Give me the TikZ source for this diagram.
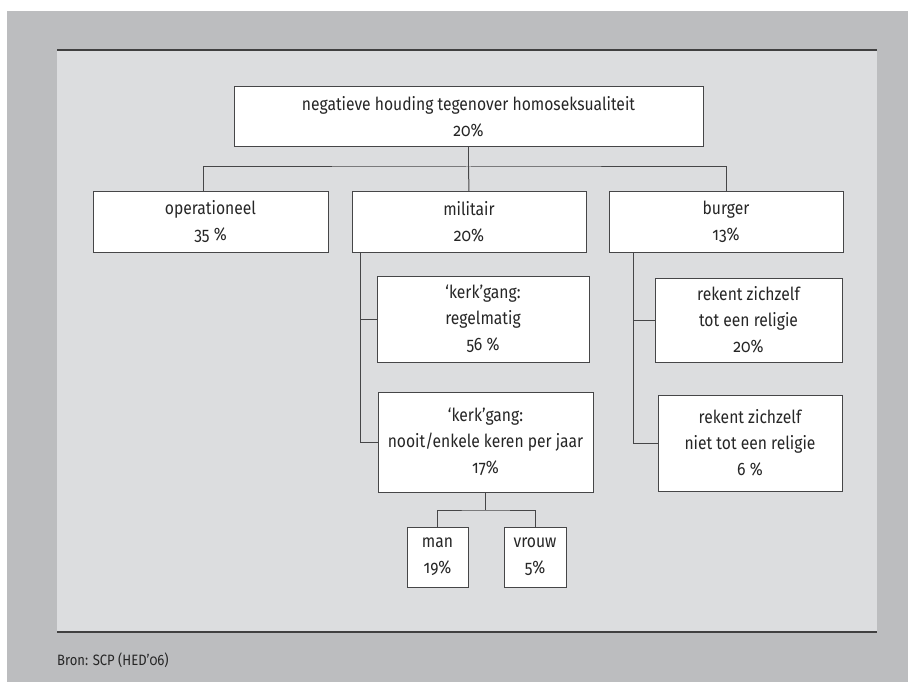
\documentclass[tikz,border=0pt]{standalone}
\usepackage{fontspec}
\setmainfont{Fira Sans}[Numbers=OldStyle, FakeStretch=0.87]
\definecolor{outergray}{RGB}{188,189,191}
\definecolor{innergray}{RGB}{220,221,223}
\definecolor{linegray}{RGB}{70,70,72}
\tikzset{
  box/.style={draw=linegray, line width=1pt, fill=white, inner sep=2pt, align=center,
    font=\fontsize{18}{26}\selectfont, text=black!85},
  conn/.style={draw=linegray, line width=1pt},
  rule/.style={draw=black!75, line width=1.6pt}
}
\begin{document}
\begin{tikzpicture}[x=1pt,y=-1pt]
\useasboundingbox (0,0) rectangle (908,682);
\fill[white] (0,0) rectangle (908,682);
\fill[outergray] (7,11) rectangle (908,682);
\fill[innergray] (57,50) rectangle (877,632);
\draw[rule] (57,50) -- (877,50);
\draw[rule] (57,632) -- (877,632);

\node[box, minimum width=469pt, minimum height=60pt] (top) at (468.5,117) {negatieve houding tegenover homoseksualiteit\\20\%};
\node[box, minimum width=235pt, minimum height=60pt] (oper) at (210.5,222) {operationeel\\35 \%};
\node[box, minimum width=234pt, minimum height=60pt] (mil) at (469,222) {militair\\20\%};
\node[box, minimum width=234pt, minimum height=60pt] (burg) at (726,222) {burger\\13\%};
\node[box, minimum width=212pt, minimum height=86pt] (kerk1) at (483,319) {‘kerk’gang:\\regelmatig\\56 \%};
\node[box, minimum width=215pt, minimum height=100pt] (kerk2) at (485.5,442) {‘kerk’gang:\\nooit/enkele keren per jaar\\17\%};
\node[box, minimum width=61pt, minimum height=60pt] (man) at (437.5,557) {man\\19\%};
\node[box, minimum width=62pt, minimum height=60pt] (vrouw) at (535,557) {vrouw\\5\%};
\node[box, minimum width=187pt, minimum height=84pt] (rel1) at (748.5,320) {rekent zichzelf\\tot een religie\\20\%};
\node[box, minimum width=184pt, minimum height=96pt] (rel2) at (750,443) {rekent zichzelf\\niet tot een religie\\6 \%};

\coordinate (hj) at (468.5,167);
\coordinate (ot) at (203,192);
\coordinate (mt) at (360.7,252);
\coordinate (bt) at (633,252);
\coordinate (kj) at (485.5,510);

\draw[conn] (top.south) -- (hj);
\draw[conn] (ot) |- (hj) -| (burg.north);
\draw[conn] (hj) -- (mil.north);
\draw[conn] (mt) |- (kerk1.west);
\draw[conn] (mt) |- (kerk2.west);
\draw[conn] (bt) |- (rel1.west);
\draw[conn] (bt) |- (rel2.west);
\draw[conn] (kerk2.south) -- (kj);
\draw[conn] (man.north) |- (kj) -| (vrouw.north);

\node[anchor=west, inner sep=0pt, font=\fontsize{15}{18}\selectfont, text=black!85] (bron) at (57,660) {Bron: SCP (HED’06)};
\end{tikzpicture}
\end{document}
